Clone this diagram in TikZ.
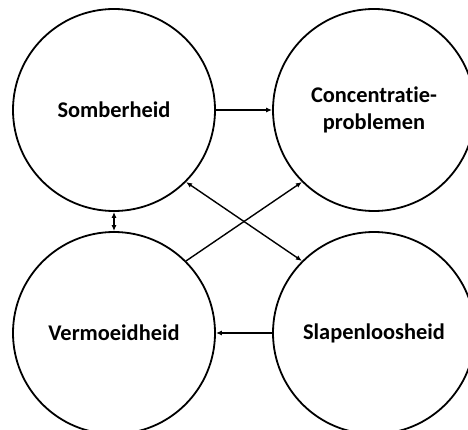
\documentclass[tikz,border=0pt]{standalone}
\usepackage{fontspec}
\setmainfont[Ligatures={NoCommon}]{Carlito}
\usetikzlibrary{arrows.meta}
\begin{document}
\begin{tikzpicture}[x=1pt,y=-1pt,
  bubble/.style={circle,draw,line width=1.8pt,minimum size=202pt,inner sep=0pt,
    font=\fontsize{22.4}{27}\selectfont\bfseries,align=center},
  link/.style={line width=1.4pt,-{Latex[length=6pt,width=5pt]}},
  bilink/.style={line width=1.4pt,{Latex[length=6pt,width=5pt]}-{Latex[length=6pt,width=5pt]}}]
\useasboundingbox (0,0) rectangle (468,430);
\clip (0,0) rectangle (468,430);
\node[bubble] (s) at (114,110) {Somberheid};
\node[bubble] (c) at (374,110) {Concentratie-\\problemen};
\node[bubble] (v) at (114,333) {Vermoeidheid};
\node[bubble] (l) at (374,333) {Slapenloosheid};
\draw[link] (s.east) -- (c.west);
\draw[link] (l.west) -- (v.east);
\draw[bilink] (s.south) -- (v.north);
\draw[link] (v.45) -- (c.225);
\draw[bilink] (s.-45) -- (l.135);
\end{tikzpicture}
\end{document}
